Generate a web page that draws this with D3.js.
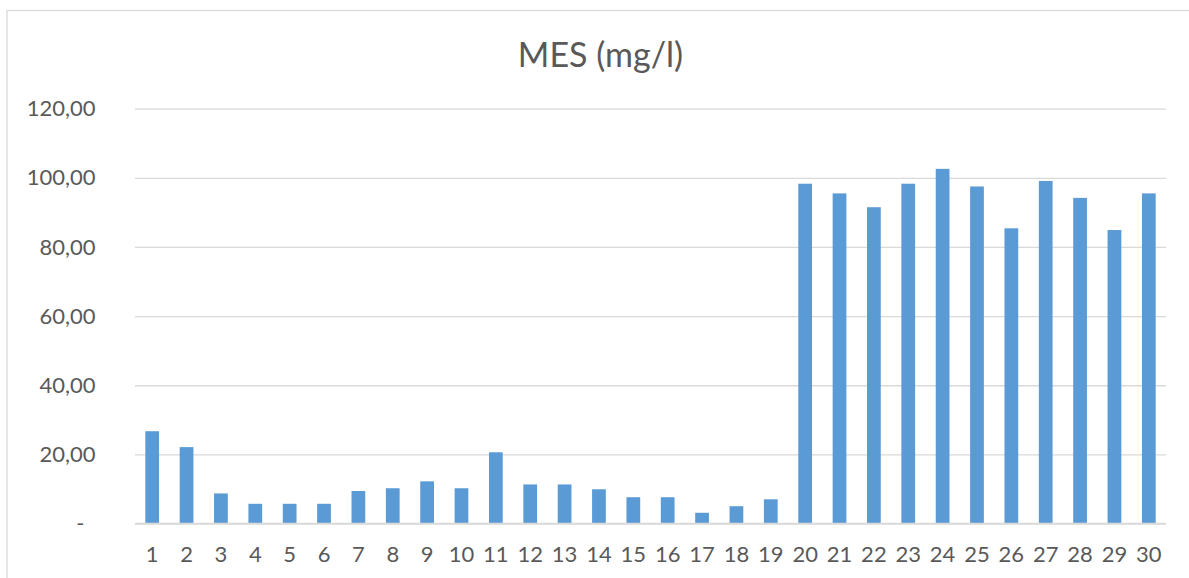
<!DOCTYPE html>
<html>
<head>
<meta charset="utf-8">
<script src="https://cdn.jsdelivr.net/npm/d3@7"></script>
<style>
  html, body { margin: 0; padding: 0; background: #ffffff; }
  svg { display: block; }
  text { font-family: Lato, "Open Sans", sans-serif; fill: #595959; }
</style>
</head>
<body>
<svg id="chart" width="1189" height="578"></svg>
<script>
// Chart title
const title = "MES (mg/l)";

// Sample numbers (x axis categories)
const categories = [1, 2, 3, 4, 5, 6, 7, 8, 9, 10, 11, 12, 13, 14, 15,
                    16, 17, 18, 19, 20, 21, 22, 23, 24, 25, 26, 27, 28, 29, 30];

// Suspended matter concentration, mg/l
const mesValues = [26.7, 22.1, 8.7, 5.7, 5.7, 5.7, 9.4, 10.2, 12.2, 10.2,
                   20.6, 11.3, 11.3, 9.9, 7.6, 7.6, 3.1, 5.0, 7.0, 98.3,
                   95.5, 91.5, 98.3, 102.6, 97.5, 85.4, 99.1, 94.2, 84.9, 95.5];

// Y axis ticks
const yTicks = [0, 20, 40, 60, 80, 100, 120];

const svg = d3.select("#chart");
const W = 1189, H = 578;
const plot = { left: 135, right: 1166, top: 108.7, bottom: 523.5 };

// Chart area frame
svg.append("rect")
  .attr("x", 7).attr("y", 10.5)
  .attr("width", W + 10).attr("height", H + 10)
  .attr("fill", "#ffffff")
  .attr("stroke", "#d9d9d9").attr("stroke-width", 1.3);

const x = d3.scaleBand()
  .domain(categories)
  .range([plot.left, plot.right])
  .paddingInner(0.6)
  .paddingOuter(0.3);

const y = d3.scaleLinear()
  .domain([0, 120])
  .range([plot.bottom, plot.top]);

const fmt = v => v === 0 ? "-" : d3.format(".2f")(v).replace(".", ",");

// Horizontal gridlines + y labels
const yAxis = d3.axisLeft(y)
  .tickValues(yTicks)
  .tickSize(-(plot.right - plot.left))
  .tickPadding(39.5)
  .tickFormat(fmt);

const gy = svg.append("g")
  .attr("transform", `translate(${plot.left},0)`)
  .call(yAxis);
gy.select(".domain").remove();
gy.selectAll(".tick line")
  .attr("stroke", "#d9d9d9").attr("stroke-width", 1.3);
gy.selectAll(".tick text")
  .attr("font-size", 22)
  .attr("fill", "#595959")
  .attr("dx", d => d === 0 ? -11 : 0);

// Bars
svg.append("g")
  .selectAll("rect")
  .data(mesValues)
  .join("rect")
  .attr("x", (d, i) => x(categories[i]))
  .attr("width", x.bandwidth())
  .attr("y", d => y(d))
  .attr("height", d => y(0) - y(d))
  .attr("fill", "#5b9bd5");

// Category axis
const xAxis = d3.axisBottom(x).tickSize(0).tickPadding(23);
const gx = svg.append("g")
  .attr("transform", `translate(0,${plot.bottom})`)
  .call(xAxis);
gx.select(".domain")
  .attr("stroke", "#d9d9d9").attr("stroke-width", 1.3)
  .attr("d", `M${plot.left},0H${plot.right}`);
gx.selectAll(".tick text")
  .attr("font-size", 22)
  .attr("fill", "#595959");

// Title
svg.append("text")
  .attr("x", 600.5)
  .attr("y", 67)
  .attr("text-anchor", "middle")
  .attr("font-size", 34)
  .attr("fill", "#595959")
  .text(title);
</script>
</body>
</html>
